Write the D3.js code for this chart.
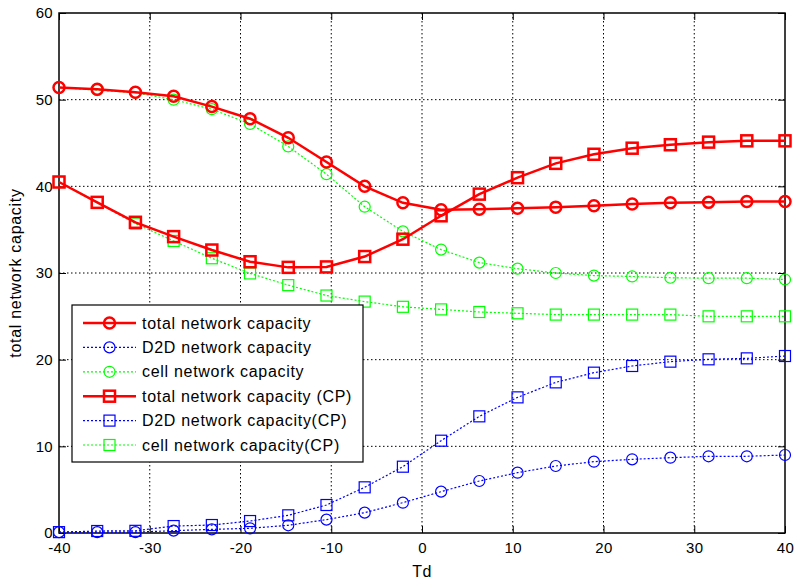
<!DOCTYPE html>
<html>
<head>
<meta charset="utf-8">
<script src="https://cdn.jsdelivr.net/npm/d3@7"></script>
<style>
  body { margin: 0; background: #fff; }
  svg text { font-family: "Liberation Sans", Arial, sans-serif; fill: #000; }
  .grid line { stroke: #000; stroke-width: 1; stroke-dasharray: 1.5,2.5; }
</style>
</head>
<body>
<div id="chart"></div>
<script>
// Data
var tdValues = d3.range(20).map(i => -40 + i * 80 / 19);
var totalCap = [51.4, 51.2, 50.85, 50.4, 49.2, 47.8, 45.6, 42.8, 40.0, 38.1, 37.3, 37.35, 37.46, 37.6, 37.75, 37.95, 38.1, 38.15, 38.25, 38.25];
var d2dCap = [0.1, 0.1, 0.1, 0.27, 0.42, 0.54, 0.89, 1.54, 2.35, 3.5, 4.77, 6.0, 6.96, 7.73, 8.23, 8.5, 8.69, 8.85, 8.85, 9.0];
var cellCap = [51.4, 51.1, 50.8, 50.0, 48.9, 47.2, 44.6, 41.4, 37.65, 34.8, 32.7, 31.2, 30.5, 30.0, 29.7, 29.6, 29.45, 29.4, 29.4, 29.25];
var totalCapCP = [40.5, 38.15, 35.85, 34.2, 32.65, 31.3, 30.65, 30.7, 31.9, 33.9, 36.6, 39.1, 41.0, 42.65, 43.7, 44.4, 44.8, 45.1, 45.25, 45.25];
var d2dCapCP = [0.1, 0.23, 0.25, 0.8, 0.92, 1.38, 2.04, 3.23, 5.27, 7.65, 10.65, 13.46, 15.65, 17.38, 18.5, 19.27, 19.77, 20.04, 20.15, 20.42];
var cellCapCP = [40.5, 38.1, 35.7, 33.7, 31.7, 29.95, 28.6, 27.4, 26.7, 26.1, 25.8, 25.5, 25.35, 25.2, 25.2, 25.2, 25.2, 25.0, 25.0, 25.0];
var xTicks = [-40, -30, -20, -10, 0, 10, 20, 30, 40];
var yTicks = [0, 10, 20, 30, 40, 50, 60];

var seriesList = [
  { name: "total network capacity", values: totalCap, color: "#ff0000", marker: "circle", solid: true },
  { name: "D2D network capacity", values: d2dCap, color: "#0000ff", marker: "circle", solid: false },
  { name: "cell network capacity", values: cellCap, color: "#00ff00", marker: "circle", solid: false },
  { name: "total network capacity (CP)", values: totalCapCP, color: "#ff0000", marker: "square", solid: true },
  { name: "D2D network capacity(CP)", values: d2dCapCP, color: "#0000ff", marker: "square", solid: false },
  { name: "cell network capacity(CP)", values: cellCapCP, color: "#00ff00", marker: "square", solid: false }
];

var width = 794, height = 581;
var margins = { top: 13, right: 9, bottom: 48, left: 59 };
var chartWidth = width - margins.left - margins.right;
var chartHeight = height - margins.top - margins.bottom;

var svg = d3.select("#chart").append("svg")
  .attr("width", width)
  .attr("height", height);

var chartElement = svg.append("g")
  .attr("transform", `translate(${margins.left},${margins.top})`);

var xScale = d3.scaleLinear().domain([-40, 40]).range([0, chartWidth]);
var yScale = d3.scaleLinear().domain([0, 60]).range([chartHeight, 0]);

// Grid
chartElement.append("g")
  .attr("class", "grid")
  .selectAll("line.gx")
  .data(xTicks.slice(1, -1))
  .enter().append("line")
  .attr("x1", d => xScale(d)).attr("x2", d => xScale(d))
  .attr("y1", 0).attr("y2", chartHeight);

chartElement.append("g")
  .attr("class", "grid")
  .selectAll("line.gy")
  .data(yTicks.slice(1, -1))
  .enter().append("line")
  .attr("x1", 0).attr("x2", chartWidth)
  .attr("y1", d => yScale(d)).attr("y2", d => yScale(d));

// Axes (MATLAB style, inward ticks on all four sides)
var tickLen = 7;
var styleAxis = function(g) {
  g.select(".domain").remove();
  g.selectAll(".tick line").attr("stroke", "#000").attr("stroke-width", 1);
  g.selectAll(".tick text").attr("font-size", 15).attr("letter-spacing", 0.3);
};

chartElement.append("g")
  .attr("transform", `translate(0,${chartHeight})`)
  .call(d3.axisBottom(xScale).tickValues(xTicks).tickSizeInner(-tickLen).tickSizeOuter(0).tickPadding(9).tickFormat(d => String(d)))
  .call(styleAxis);

chartElement.append("g")
  .call(d3.axisTop(xScale).tickValues(xTicks).tickSizeInner(-tickLen).tickSizeOuter(0).tickFormat(""))
  .call(styleAxis);

chartElement.append("g")
  .call(d3.axisLeft(yScale).tickValues(yTicks).tickSizeInner(-tickLen).tickSizeOuter(0).tickPadding(6).tickFormat(d => String(d)))
  .call(styleAxis);

chartElement.append("g")
  .attr("transform", `translate(${chartWidth},0)`)
  .call(d3.axisRight(yScale).tickValues(yTicks).tickSizeInner(-tickLen).tickSizeOuter(0).tickFormat(""))
  .call(styleAxis);

chartElement.append("rect")
  .attr("x", 0).attr("y", 0)
  .attr("width", chartWidth).attr("height", chartHeight)
  .attr("fill", "none").attr("stroke", "#000").attr("stroke-width", 1.5);

// Axis labels
svg.append("text")
  .attr("x", margins.left + xScale(0))
  .attr("y", 577)
  .attr("text-anchor", "middle")
  .attr("font-size", 16)
  .attr("letter-spacing", 0.5)
  .text("Td");

svg.append("text")
  .attr("transform", `translate(21,${margins.top + chartHeight / 2}) rotate(-90)`)
  .attr("text-anchor", "middle")
  .attr("font-size", 16)
  .attr("letter-spacing", 0.7)
  .text("total network capacity");

// Marker helper
var drawMarker = function(sel, s, r) {
  if (s.marker === "circle") {
    sel.append("circle").attr("r", r);
  } else {
    sel.append("rect").attr("x", -r).attr("y", -r).attr("width", 2 * r).attr("height", 2 * r);
  }
};

var line = d3.line()
  .x((d, i) => xScale(tdValues[i]))
  .y(d => yScale(d));

// Lines (dotted ones first, red solid on top)
var order = [2, 5, 1, 4, 0, 3];
order.forEach(function(k) {
  var s = seriesList[k];
  var g = chartElement.append("g").attr("class", "series");
  g.append("path")
    .attr("d", line(s.values))
    .attr("fill", "none")
    .attr("stroke", s.color)
    .attr("stroke-width", s.solid ? 2.5 : 1.2)
    .attr("stroke-dasharray", s.solid ? null : "2,2");
  g.selectAll("g.pt")
    .data(s.values)
    .enter().append("g")
    .attr("transform", (d, i) => `translate(${xScale(tdValues[i])},${yScale(d)})`)
    .each(function() {
      drawMarker(d3.select(this), s, 5.5);
    })
    .selectAll("circle, rect")
    .attr("fill", "none")
    .attr("stroke", s.color)
    .attr("stroke-width", s.solid ? 2.5 : 1.2);
});

// Legend
var legend = svg.append("g").attr("transform", "translate(72,305)");
legend.append("rect")
  .attr("width", 291).attr("height", 157)
  .attr("fill", "#fff").attr("stroke", "#000").attr("stroke-width", 1.2);

seriesList.forEach(function(s, i) {
  var row = legend.append("g").attr("transform", `translate(0,${18 + i * 24.4})`);
  row.append("line")
    .attr("x1", 11).attr("x2", 64)
    .attr("stroke", s.color)
    .attr("stroke-width", s.solid ? 2.5 : 1.2)
    .attr("stroke-dasharray", s.solid ? null : "2,2");
  var m = row.append("g").attr("transform", "translate(37.5,0)");
  drawMarker(m, s, 5.5);
  m.selectAll("circle, rect")
    .attr("fill", "none")
    .attr("stroke", s.color)
    .attr("stroke-width", s.solid ? 2.5 : 1.2);
  row.append("text")
    .attr("x", 70)
    .attr("dy", "0.35em")
    .attr("font-size", 16)
    .attr("letter-spacing", 0.7)
    .text(s.name);
});
</script>
</body>
</html>
